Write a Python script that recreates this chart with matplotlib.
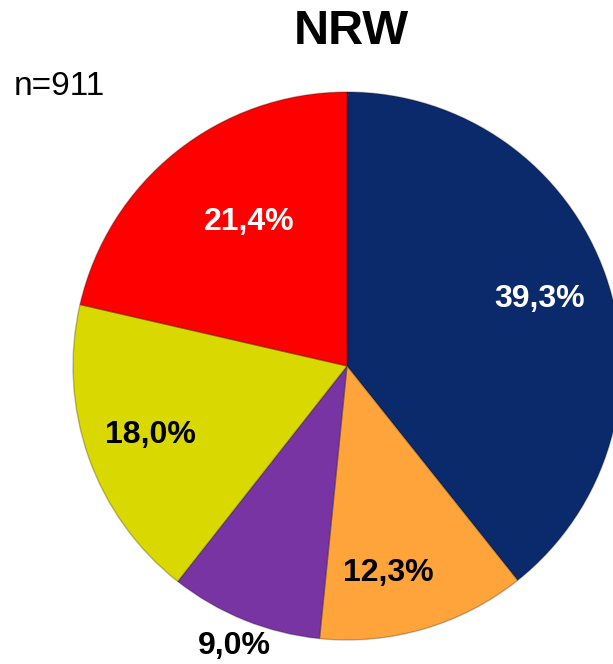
import numpy as np
import matplotlib.pyplot as plt

# Data, clockwise from 12 o'clock
shares = [39.3, 12.3, 9.0, 18.0, 21.4]
labels = ["39,3%", "12,3%", "9,0%", "18,0%", "21,4%"]
colors = ["#0b2a6b", "#fea43b", "#7934a3", "#d9d800", "#fe0000"]
text_colors = ["white", "black", "black", "black", "white"]
label_radius = [0.745, 0.77, 1.10, 0.76, 0.635]
label_shift = [0.0, -5.0, 0.0, 0.0, -4.5]  # degrees, nudges off the wedge middle
title = "NRW"
note = "n=911"

plt.rcParams["font.family"] = ["Liberation Sans", "DejaVu Sans"]

fig = plt.figure(figsize=(6.13, 6.64), dpi=100)
ax = fig.add_axes([0, 0, 1, 1])

center = (347, 298)
radius = 274

wedges, _ = ax.pie(
    shares, colors=colors, startangle=90, counterclock=False,
    center=center, radius=radius, frame=True,
    wedgeprops=dict(edgecolor="#00000040", linewidth=1.0),
)
ax.set_xlim(0, 613)
ax.set_ylim(0, 664)
ax.set_aspect("equal")
ax.axis("off")

for w, lab, tc, fr, sh in zip(wedges, labels, text_colors, label_radius, label_shift):
    mid = np.deg2rad((w.theta1 + w.theta2) / 2 + sh)
    x = center[0] + fr * radius * np.cos(mid)
    y = center[1] + fr * radius * np.sin(mid)
    ax.text(x, y, lab, color=tc, fontsize=23, fontweight="bold",
            ha="center", va="center")

fig.text(0.573, 0.953, title, fontsize=35, fontweight="bold", ha="center", va="center")
fig.text(0.022, 0.87, note, fontsize=24, ha="left", va="center")

fig.savefig("out.png", dpi=100)
